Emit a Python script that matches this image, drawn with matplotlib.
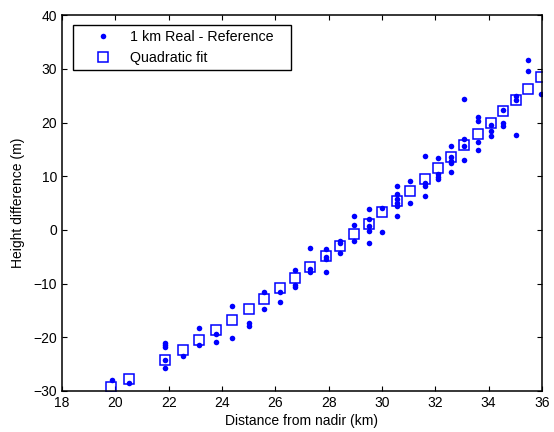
import matplotlib
matplotlib.use("Agg")
import matplotlib.pyplot as plt

plt.rcParams['font.family'] = ['Liberation Sans', 'DejaVu Sans']
plt.rcParams['font.size'] = 10

# Quadratic fit evaluated along the swath (km, m)
fit_x = [19.85, 20.51, 21.86, 22.52, 23.14, 23.76, 24.39, 25.00, 25.59, 26.16,
         26.75, 27.32, 27.89, 28.43, 28.95, 29.50, 30.01, 30.57, 31.06, 31.60,
         32.09, 32.59, 33.09, 33.60, 34.09, 34.56, 35.05, 35.50, 35.96]
fit_y = [-29.3, -27.8, -24.2, -22.4, -20.5, -18.7, -16.8, -14.7, -12.8, -10.8,
         -8.9, -6.9, -4.8, -3.0, -0.8, 1.1, 3.3, 5.3, 7.3, 9.5,
         11.6, 13.6, 15.8, 17.8, 19.9, 22.2, 24.2, 26.3, 28.5]

# 1 km real minus reference height samples, grouped by distance
meas = {
    19.87: [-28.0],
    20.53: [-28.5],
    21.86: [-21.0, -21.5, -21.9, -24.3, -25.7],
    22.52: [-23.4],
    23.14: [-18.3, -21.5],
    23.76: [-19.3, -20.8],
    24.39: [-14.2, -20.1],
    25.00: [-17.4, -17.9],
    25.59: [-11.5, -14.8],
    26.16: [-11.6, -13.4],
    26.75: [-7.4, -10.3, -10.7],
    27.32: [-3.3, -7.2, -7.8],
    27.89: [-3.5, -5.1, -5.5, -7.8],
    28.43: [-2.0, -2.4, -4.3],
    28.95: [2.5, 1.0, -2.0],
    29.50: [3.9, 2.1, 0.8, -0.2, -2.5],
    30.01: [4.1, -0.4],
    30.57: [8.1, 6.7, 5.7, 5.0, 4.4, 2.6],
    31.06: [9.1, 5.0],
    31.60: [13.7, 8.8, 8.2, 6.4],
    32.09: [13.4, 10.4, 9.9, 9.4],
    32.59: [15.7, 13.5, 12.9, 12.5, 10.8],
    33.09: [24.3, 17.0, 15.6, 13.0],
    33.60: [21.1, 20.3, 16.3, 14.9],
    34.09: [19.5, 18.4, 17.5],
    34.56: [22.4, 20.0, 19.3],
    35.05: [25.0, 24.1, 17.7],
    35.50: [31.7, 29.6],
    35.96: [25.3],
}
meas_x = [d for d, vals in meas.items() for v in vals]
meas_y = [v for d, vals in meas.items() for v in vals]

fig = plt.figure(figsize=(5.54, 4.32), dpi=100)
ax = fig.add_axes([0.112, 0.095, 0.866, 0.870])

ax.plot(meas_x, meas_y, 'o', color='#0000ff', markersize=4.0,
        markeredgewidth=0, label='1 km Real - Reference   ')
ax.plot(fit_x, fit_y, 's', markerfacecolor='none', markeredgecolor='#0000ff',
        markersize=7.5, markeredgewidth=1.1, label='Quadratic fit')

ax.set_xlim(18, 36)
ax.set_ylim(-30, 40)
ax.set_xticks(range(18, 37, 2))
ax.set_yticks(range(-30, 41, 10))
ax.tick_params(direction='in', top=True, right=True, length=3.5, width=0.8,
               labelsize=10, colors='black')
for s in ax.spines.values():
    s.set_linewidth(1.1)

ax.set_xlabel('Distance from nadir (km)', labelpad=3)
ax.set_ylabel('Height difference (m)', labelpad=6)

leg = ax.legend(loc='upper left', bbox_to_anchor=(0.0235, 0.975),
                borderaxespad=0, fancybox=False, edgecolor='black',
                framealpha=1, fontsize=10.3, handlelength=3.4,
                handletextpad=0.15, labelspacing=0.45, borderpad=0.4)
leg.get_frame().set_linewidth(1.0)

fig.savefig('out.png', dpi=100)
